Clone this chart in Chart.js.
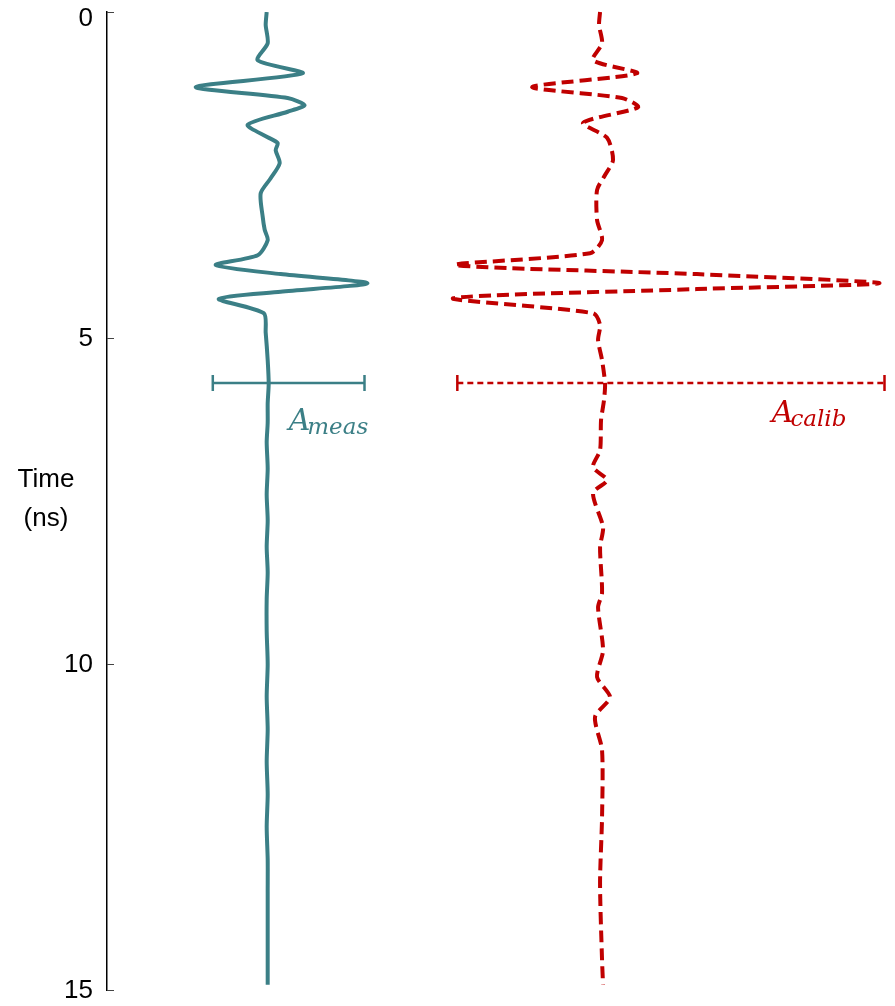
<!DOCTYPE html>
<html>
<head>
<meta charset="utf-8">
<title>Measured vs calibrated trace</title>
<script src="https://cdn.jsdelivr.net/npm/chart.js@4.4.1/dist/chart.umd.min.js"></script>
<style>
    html, body { margin: 0; padding: 0; background: #ffffff; overflow: hidden; }
    #chart-container { position: relative; width: 895px; height: 1006px; }
</style>
</head>
<body>
<div id="chart-container">
    <canvas id="trace-chart"></canvas>
</div>
<script>
// Measured trace: time (ns) and amplitude (arbitrary units, relative to its baseline)
const measTime = [0, 0.2, 0.48, 0.74, 0.94, 1.15, 1.32, 1.43, 1.53, 1.73, 1.92, 2.01, 2.12, 2.32, 2.55, 2.78,
    3.14, 3.34, 3.5, 3.73, 3.88, 4.02, 4.16, 4.29, 4.4, 4.62, 4.92, 5.34, 5.7, 6.0, 6.3, 6.6, 7.0, 7.4, 7.8,
    8.2, 8.6, 9.0, 9.5, 10.0, 10.5, 11.0, 11.5, 12.0, 12.5, 13.0, 13.5, 14.0, 14.5, 14.92];
const measAmp = [0, -0.01, 0.01, -0.09, 0.36, -0.71, 0.21, 0.38, 0.21, -0.19, 0.01, 0.11, 0.09, 0.13, 0.04, -0.06,
    -0.04, -0.02, 0.01, -0.09, -0.51, 0.14, 1.01, 0.14, -0.48, -0.03, -0.01, 0.01, 0.02, 0.01, 0.01, 0, 0.01, 0, 0.01,
    0, 0.01, 0, 0, 0.01, 0, 0.01, 0, 0.01, 0, 0.01, 0.01, 0.01, 0.01, 0.01];

// Calibrated trace
const calibTime = [0, 0.2, 0.48, 0.74, 0.94, 1.15, 1.32, 1.46, 1.7, 1.93, 2.27, 2.5, 2.73, 3.19, 3.5, 3.7,
    3.88, 4.02, 4.16, 4.25, 4.39, 4.62, 4.8, 5.03, 5.34, 5.7, 5.95, 6.26, 6.72, 6.98, 7.18, 7.38, 7.9, 8.21,
    8.91, 9.13, 9.79, 10.2, 10.51, 10.81, 11.32, 12.35, 13.36, 14.54, 14.92];
const calibAmp = [0, -0.01, 0.02, -0.07, 0.37, -0.68, 0.22, 0.38, -0.17, 0.07, 0.13, 0.05, -0.03, -0.03, 0.02, -0.1,
    -1.45, 0.97, 2.8, 0.97, -1.47, -0.07, 0, -0.02, 0.02, 0.05, 0.04, 0.01, 0, -0.07, 0.07, -0.07, 0.03, 0,
    0.02, -0.02, 0.03, -0.03, 0.1, -0.05, 0.02, 0.02, 0, 0.02, 0.03];

// Baselines of the two traces on the amplitude axis
const measOffset = 0;
const calibOffset = 3.34;

// Amplitude bars (time, min, max)
const barTime = 5.69;
const measBar = [-0.54, 0.98];
const calibBar = [-1.43, 2.85];

const yTicks = [0, 5, 10, 15];

const TEAL = "#3b7f86";
const RED = "#c00000";

function toPoints(times, amps, offset) {
    return times.map((t, i) => ({ x: amps[i] + offset, y: t }));
}

// Axis extras: tick labels, inward tick marks, the horizontal y title and the amplitude labels
const extrasPlugin = {
    id: "extras",
    afterDraw(chart) {
        const ctx = chart.ctx;
        const xs = chart.scales.x;
        const ys = chart.scales.y;
        ctx.save();

        // tick marks pointing into the plot, labels to the left of the axis
        ctx.strokeStyle = "#444";
        ctx.lineWidth = 1;
        ctx.fillStyle = "#000";
        ctx.font = "26px 'Liberation Sans', Arial, sans-serif";
        ctx.textAlign = "right";
        ctx.textBaseline = "middle";
        yTicks.forEach(v => {
            const py = Math.round(ys.getPixelForValue(v)) + 0.5;
            ctx.beginPath();
            ctx.moveTo(ys.right, py);
            ctx.lineTo(ys.right + 7, py);
            ctx.stroke();
            const ly = Math.min(Math.max(py, 19), chart.height - 12);
            ctx.fillText(String(v), ys.right - 14, ly);
        });

        // y title, written horizontally on two lines
        ctx.textAlign = "center";
        ctx.fillText("Time", 46, 480);
        ctx.fillText("(ns)", 46, 519);

        // amplitude labels with subscripts
        const labels = [
            { main: "A", sub: "meas", x: measOffset + 0.22, t: 6.41, color: TEAL },
            { main: "A", sub: "calib", x: calibOffset + 1.72, t: 6.29, color: RED }
        ];
        ctx.textAlign = "left";
        ctx.textBaseline = "alphabetic";
        labels.forEach(lab => {
            const px = xs.getPixelForValue(lab.x);
            const py = ys.getPixelForValue(lab.t);
            ctx.fillStyle = lab.color;
            ctx.font = "italic 30px 'DejaVu Serif', serif";
            ctx.fillText(lab.main, px, py);
            const w = ctx.measureText(lab.main).width;
            ctx.font = "italic 23px 'DejaVu Serif', serif";
            ctx.fillText(lab.sub, px + w - 3, py + 4);
        });

        ctx.restore();
    }
};

const canvas = document.getElementById("trace-chart");

new Chart(canvas, {
    type: "scatter",
    data: {
        datasets: [
            {
                label: "Measured",
                data: toPoints(measTime, measAmp, measOffset),
                showLine: true,
                borderColor: TEAL,
                borderWidth: 4,
                pointRadius: 0,
                tension: 0.25,
                fill: false
            },
            {
                label: "Calibrated",
                data: toPoints(calibTime, calibAmp, calibOffset),
                showLine: true,
                borderColor: RED,
                borderWidth: 4,
                borderDash: [12, 6],
                pointRadius: 0,
                tension: 0.25,
                fill: false,
                clip: false
            },
            {
                label: "A meas",
                data: measBar.map(a => ({ x: a + measOffset, y: barTime })),
                showLine: true,
                borderColor: TEAL,
                borderWidth: 2.5,
                pointStyle: "line",
                rotation: 90,
                pointRadius: 8,
                pointBorderWidth: 2.5,
                pointBorderColor: TEAL,
                tension: 0
            },
            {
                label: "A calib",
                data: calibBar.map(a => ({ x: a + calibOffset, y: barTime })),
                showLine: true,
                borderColor: RED,
                borderWidth: 2.5,
                borderDash: [6, 4],
                pointStyle: "line",
                rotation: 90,
                pointRadius: 8,
                pointBorderWidth: 2.5,
                pointBorderColor: RED,
                tension: 0,
                clip: false
            }
        ]
    },
    options: {
        responsive: true,
        maintainAspectRatio: false,
        animation: false,
        layout: { padding: { top: 12, bottom: 16, left: 0, right: 2 } },
        plugins: {
            legend: { display: false },
            tooltip: { enabled: false }
        },
        scales: {
            x: {
                type: "linear",
                display: false,
                min: -1.6,
                max: 6.19
            },
            y: {
                type: "linear",
                reverse: true,
                min: 0,
                max: 15,
                afterFit: (scale) => { scale.width = 107; },
                ticks: { display: false },
                grid: { display: false, drawTicks: false },
                border: { display: true, color: "#000", width: 1.5 }
            }
        }
    },
    plugins: [extrasPlugin]
});
</script>
</body>
</html>
